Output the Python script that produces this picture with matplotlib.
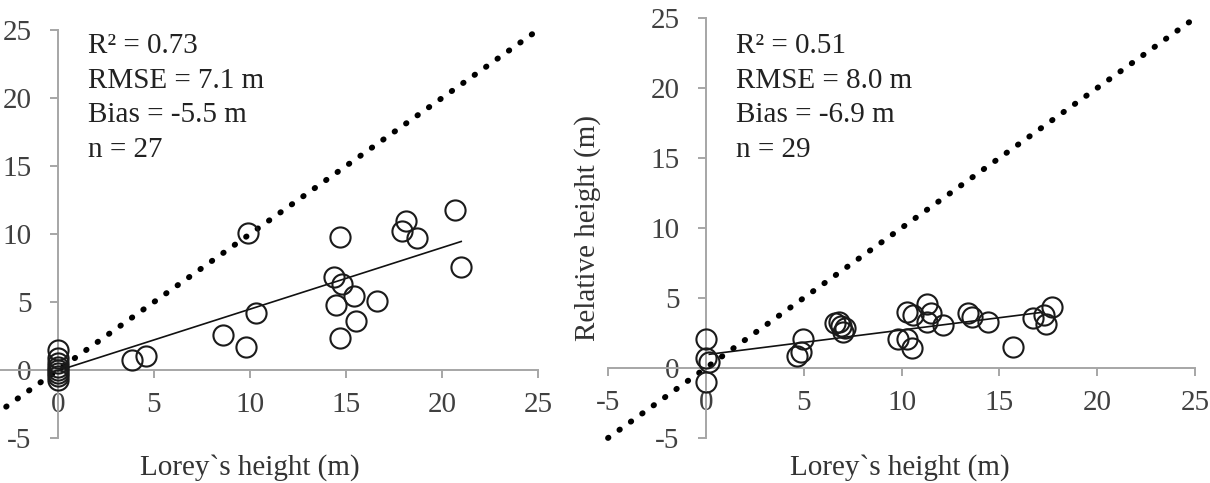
import matplotlib
matplotlib.use("Agg")
import matplotlib.pyplot as plt
import numpy as np

plt.rcParams['font.family'] = ['Liberation Serif', 'DejaVu Serif']
plt.rcParams['axes.unicode_minus'] = False

# left panel: Lorey's height vs estimated height
left_x = [0, 0, 0, 0, 0, 0, 0, 0,
          3.85, 4.6, 8.6, 9.8, 10.3, 9.9,
          14.7, 14.4, 14.8, 15.4, 14.5, 16.6, 15.5, 14.7,
          18.1, 17.9, 18.7, 20.7, 21.0]
left_y = [1.47, 0.9, 0.5, 0.2, 0.0, -0.2, -0.45, -0.75,
          0.74, 1.03, 2.57, 1.7, 4.2, 10.07,
          9.8, 6.85, 6.3, 5.44, 4.8, 5.07, 3.6, 2.35,
          10.96, 10.2, 9.7, 11.76, 7.56]
left_fit = ([0, 21.0], [-0.05, 9.45])
left_stats = ["R² = 0.73", "RMSE = 7.1 m", "Bias = -5.5 m", "n = 27"]

# right panel: Lorey's height vs relative height
right_x = [0, 0, 0.14, 0,
           4.64, 4.85, 4.95,
           6.6, 6.8, 6.9, 7.0, 7.1,
           10.3, 10.6, 11.3, 11.5, 11.3, 12.1, 9.8, 10.3, 10.55,
           13.4, 13.6, 14.4, 15.7,
           16.7, 17.3, 17.7, 17.4]
right_y = [2.05, 0.69, 0.45, -0.98,
           0.88, 1.12, 2.05,
           3.2, 3.3, 3.0, 2.6, 2.85,
           4.0, 3.8, 4.6, 3.9, 3.3, 3.07, 2.1, 2.1, 1.43,
           3.9, 3.65, 3.3, 1.5,
           3.55, 3.8, 4.37, 3.14]
right_fit = ([0.18, 17.2], [0.98, 3.98])
right_stats = ["R² = 0.51", "RMSE = 8.0 m", "Bias = -6.9 m", "n = 29"]

ticks = [-5, 0, 5, 10, 15, 20, 25]

W, H = 1210, 483
FS = 21
fig = plt.figure(figsize=(W / 100, H / 100), dpi=100)


def setup_axis(ax, xticks):
    for s in ['top', 'right']:
        ax.spines[s].set_visible(False)
    for s in ['left', 'bottom']:
        ax.spines[s].set_position(('data', 0))
        ax.spines[s].set_color('#a6a6a6')
        ax.spines[s].set_linewidth(1.4)
    ax.set_xticks(xticks)
    ax.set_yticks(ticks)
    ax.tick_params(axis='both', direction='out', length=6, width=1.4,
                   color='#a6a6a6', labelsize=FS, labelcolor='#404040')
    ax.tick_params(axis='x', pad=10)
    ax.tick_params(axis='y', pad=13)
    ax.set_facecolor('none')


def draw_panel(ax, xs, ys, fit, one_start):
    line = np.array([one_start, 25])
    ax.plot(line, line, color='black', lw=4.2, linestyle=(0, (0.1, 2.3)),
            dash_capstyle='round', zorder=3, clip_on=False)
    ax.plot(fit[0], fit[1], color='#111111', lw=1.2, zorder=4)
    ax.plot(xs, ys, 'o', ms=14.5, mfc='none', mec='#1a1a1a', mew=1.5,
            zorder=5, clip_on=False)


ax1 = fig.add_axes([0 / W, (H - 438) / H, 538 / W, (438 - 30) / H])
ax1.set_xlim(-3.02, 25)
ax1.set_ylim(-5, 25)
setup_axis(ax1, [0, 5, 10, 15, 20, 25])
draw_panel(ax1, left_x, left_y, left_fit, -2.7)

ax2 = fig.add_axes([608 / W, (H - 438) / H, (1195 - 608) / W, (438 - 18) / H])
ax2.set_xlim(-5, 25)
ax2.set_ylim(-5, 25)
setup_axis(ax2, ticks)
draw_panel(ax2, right_x, right_y, right_fit, -5)

for i, s in enumerate(left_stats):
    fig.text(88 / W, 1 - (53 + 34.7 * i) / H, s, fontsize=FS,
             color='#222222', va='baseline', ha='left')
for i, s in enumerate(right_stats):
    fig.text(736 / W, 1 - (53 + 34.7 * i) / H, s, fontsize=FS,
             color='#222222', va='baseline', ha='left')

fig.text(250 / W, 1 - 475 / H, "Lorey`s height (m)", fontsize=FS,
         color='#333333', ha='center', va='baseline')
fig.text(900 / W, 1 - 475 / H, "Lorey`s height (m)", fontsize=FS,
         color='#333333', ha='center', va='baseline')
fig.text(588 / W, 1 - 228 / H, "Relative height (m)", fontsize=FS,
         color='#333333', ha='center', va='center', rotation=90)

fig.savefig("out.png", dpi=100)
